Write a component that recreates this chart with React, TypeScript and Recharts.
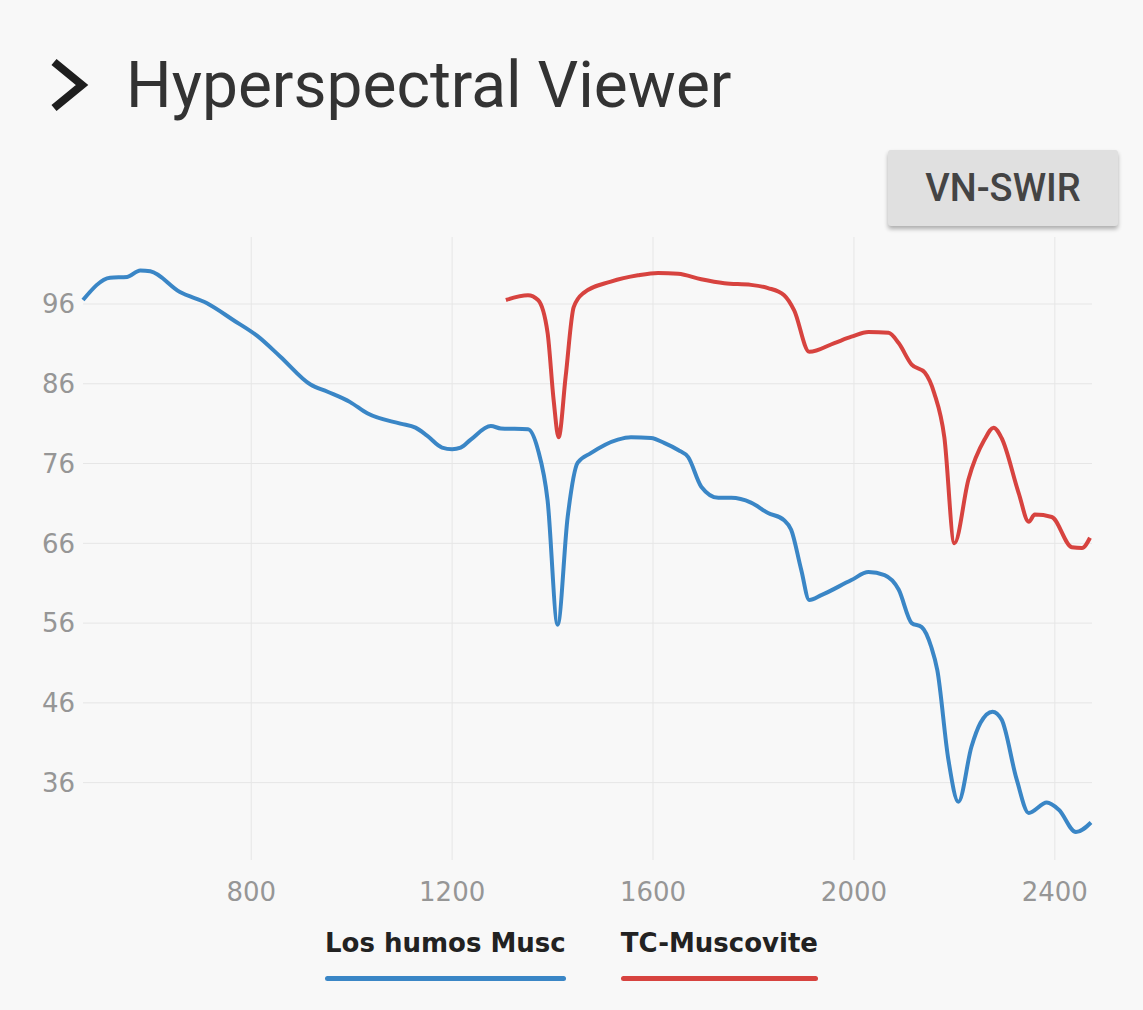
import { LineChart, Line, XAxis, YAxis, CartesianGrid, Legend } from 'recharts';

// wavelength (nm) / reflectance (%)
const humosWavelengths = [
  465, 519, 553, 579, 599, 658, 712, 764, 812, 858, 918, 952, 997, 1031, 1097,
  1127, 1150, 1180, 1200, 1217, 1237, 1277, 1297, 1351, 1371, 1390, 1410, 1430,
  1450, 1476, 1530, 1556, 1596, 1622, 1650, 1670, 1696, 1730, 1756, 1795, 1829,
  1861, 1875, 1895, 1911, 1935, 1995, 2029, 2061, 2089, 2115, 2135, 2154, 2166,
  2188, 2208, 2234, 2252, 2276, 2294, 2324, 2348, 2384, 2408, 2442, 2472,
];
const humosReflectance = [
  96.5, 99.3, 99.4, 100.2, 100.1, 97.5, 96.1, 94.0, 92.0, 89.4, 85.9, 85.0, 83.7, 82.3, 81.0,
  80.5, 79.5, 78.0, 77.8, 78.0, 79.0, 80.7, 80.4, 80.3, 77.7, 71.4, 55.8, 69.3,
  76.1, 77.3, 79.0, 79.3, 79.2, 78.6, 77.7, 76.8, 73.1, 71.7, 71.7, 71.1, 69.8,
  68.9, 67.7, 62.7, 58.9, 59.5, 61.4, 62.4, 62.0, 60.2, 56.0, 55.5, 53.0, 50.1,
  38.9, 33.6, 40.5, 43.5, 44.9, 43.9, 36.4, 32.2, 33.5, 32.6, 29.8, 31.0,
];

const muscoviteWavelengths = [
  1307, 1351, 1371, 1390, 1402, 1412, 1426, 1442, 1462, 1516, 1570, 1610, 1650,
  1696, 1742, 1795, 1829, 1861, 1881, 1911, 1961, 1995, 2029, 2069, 2089, 2115,
  2141, 2160, 2180, 2200, 2228, 2260, 2278, 2294, 2328, 2348, 2360, 2394, 2434,
  2454, 2470,
];
const muscoviteReflectance = [
  96.5, 97.1, 96.5, 92.4, 84.0, 79.3, 86.9, 95.6, 97.4, 98.8, 99.6, 99.9, 99.8,
  99.1, 98.6, 98.4, 98.0, 97.1, 95.2, 90.0, 91.1, 91.9, 92.5, 92.4, 91.1, 88.4,
  87.4, 84.8, 79.3, 66.0, 74.0, 79.0, 80.5, 79.2, 72.3, 68.7, 69.6, 69.3, 65.5,
  65.4, 66.7,
];

const xTicks = [800, 1200, 1600, 2000, 2400];
const yTicks = [36, 46, 56, 66, 76, 86, 96];

const series = [
  { name: 'Los humos Musc', color: '#3a86c6', w: humosWavelengths, v: humosReflectance },
  { name: 'TC-Muscovite', color: '#d7433f', w: muscoviteWavelengths, v: muscoviteReflectance },
];

const toRows = (w: number[], v: number[]) => w.map((x, i) => ({ w: x, v: v[i] }));

const tickStyle = { fill: '#969696', fontSize: 26, fontFamily: 'DejaVu Sans' };

function SpectraLegend() {
  return (
    <div style={{ display: 'flex', justifyContent: 'center', gap: 55, height: 70, paddingTop: 8, boxSizing: 'border-box' }}>
      {series.map((s) => (
        <div key={s.name} style={{ display: 'flex', flexDirection: 'column' }}>
          <span style={{ fontFamily: 'DejaVu Sans', fontWeight: 'bold', fontSize: 26, lineHeight: '30px', color: '#222' }}>
            {s.name}
          </span>
          <div style={{ marginTop: 18, height: 5, borderRadius: 3, background: s.color }} />
        </div>
      ))}
    </div>
  );
}

export default function App() {
  return (
    <div style={{ position: 'absolute', left: 0, top: 0, width: 1143, height: 1010, background: '#f8f8f8', overflow: 'hidden' }}>
      <svg style={{ position: 'absolute', left: 44, top: 56 }} width={50} height={60}>
        <polyline points="10,6 38,29 10,52" fill="none" stroke="#1e1e1e" strokeWidth={8} />
      </svg>
      <div style={{ position: 'absolute', left: 126, top: 48, fontFamily: 'Roboto', fontSize: 64, color: '#333', whiteSpace: 'nowrap' }}>
        Hyperspectral Viewer
      </div>
      <div
        style={{
          position: 'absolute', left: 888, top: 150, width: 230, height: 76,
          background: '#e0e0e0', borderRadius: 3, boxShadow: '0 3px 4px rgba(0,0,0,0.3)',
          display: 'flex', alignItems: 'center', justifyContent: 'center',
          fontFamily: 'Roboto', fontWeight: 500, fontSize: 38, color: '#444',
        }}
      >
        VN-SWIR
      </div>
      <div style={{ position: 'absolute', left: 0, top: 200 }}>
        <LineChart width={1143} height={800} margin={{ top: 37, right: 51, left: 0, bottom: 10 }}>
          <CartesianGrid stroke="#e6e6e6" syncWithTicks />
          <XAxis
            type="number"
            dataKey="w"
            domain={[465, 2474]}
            ticks={xTicks}
            axisLine={false}
            tickLine={false}
            tickMargin={17}
            height={60}
            tick={tickStyle}
          />
          <YAxis
            type="number"
            domain={[26.3, 104.4]}
            ticks={yTicks}
            axisLine={false}
            tickLine={false}
            width={83}
            tick={tickStyle}
          />
          <Legend
            verticalAlign="bottom"
            wrapperStyle={{ left: 0, width: 1143 }}
            content={() => <SpectraLegend />}
          />
          {series.map((s) => (
            <Line
              key={s.name}
              name={s.name}
              data={toRows(s.w, s.v)}
              dataKey="v"
              type="monotone"
              stroke={s.color}
              strokeWidth={4}
              dot={false}
              isAnimationActive={false}
            />
          ))}
        </LineChart>
      </div>
    </div>
  );
}
